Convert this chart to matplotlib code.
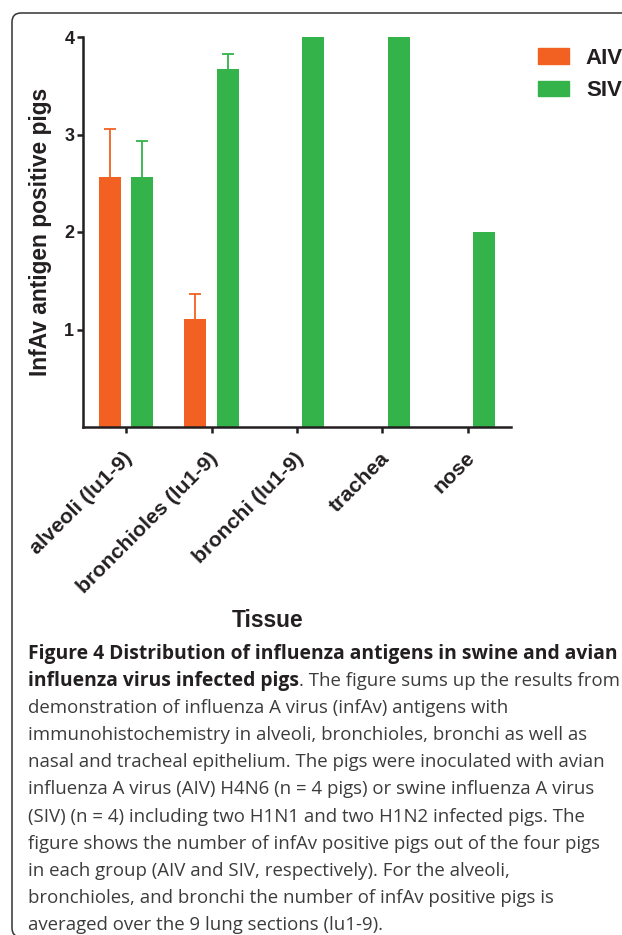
import matplotlib
matplotlib.use("Agg")
import matplotlib.pyplot as plt
from matplotlib.patches import FancyBboxPatch, Patch
from matplotlib.transforms import IdentityTransform, ScaledTranslation
import numpy as np

# --- data ---
tissues = ["alveoli (lu1-9)", "bronchioles (lu1-9)", "bronchi (lu1-9)", "trachea", "nose"]
aiv = [2.56, 1.11, 0, 0, 0]
aiv_err = [0.50, 0.25, 0, 0, 0]
siv = [2.56, 3.67, 4, 4, 2]
siv_err = [0.37, 0.16, 0, 0, 0]
y_ticks = [1, 2, 3, 4]

caption_bold_1 = "Figure 4 Distribution of influenza antigens in swine and avian"
caption_bold_2 = "influenza virus infected pigs"
caption_rest_2 = ". The figure sums up the results from"
caption_lines = [
    "demonstration of influenza A virus (infAv) antigens with",
    "immunohistochemistry in alveoli, bronchioles, bronchi as well as",
    "nasal and tracheal epithelium. The pigs were inoculated with avian",
    "influenza A virus (AIV) H4N6 (n = 4 pigs) or swine influenza A virus",
    "(SIV) (n = 4) including two H1N1 and two H1N2 infected pigs. The",
    "figure shows the number of infAv positive pigs out of the four pigs",
    "in each group (AIV and SIV, respectively). For the alveoli,",
    "bronchioles, and bronchi the number of infAv positive pigs is",
    "averaged over the 9 lung sections (lu1-9).",
]

ORANGE = "#f26122"
GREEN = "#33b34a"
DARK = "#231f20"
GREY = "#3c3c3c"

plt.rcParams["font.family"] = ["Liberation Sans", "DejaVu Sans"]
plt.rcParams["font.weight"] = "bold"

W, H = 622, 935
fig = plt.figure(figsize=(W / 100, H / 100), dpi=100)
fig.patch.set_facecolor("white")

# axes box in pixels: x 83..511, y 37..427 (from top)
ax = fig.add_axes([83.3 / W, 1 - 427 / H, (510.7 - 83.3) / W, (427 - 37) / H])

x = np.arange(len(tissues))
off, bw = 0.19, 0.26
ax.bar(x - off, aiv, width=bw, color=ORANGE, label="AIV", zorder=2)
ax.bar(x + off, siv, width=bw, color=GREEN, label="SIV", zorder=2)

# only the upper half of the error bars is shown
for vals, errs, sign, col in [(aiv, aiv_err, -1, ORANGE), (siv, siv_err, 1, GREEN)]:
    v = np.array(vals)
    e = np.array(errs)
    m = e > 0
    eb = ax.errorbar(x[m] + sign * off, v[m], yerr=[np.zeros(m.sum()), e[m]],
                     fmt="none", ecolor=col, elinewidth=1.3, capsize=4,
                     capthick=1.3, zorder=1)
    eb[1][0].set_visible(False)  # lower cap

ax.set_xlim(-0.5, 4.5)
ax.set_ylim(0, 4)
ax.set_yticks(y_ticks)
ax.set_xticks(x)
ax.set_xticklabels(tissues, rotation=45, ha="right", va="top",
                   rotation_mode="anchor", fontsize=15.3, color=DARK)
ax.tick_params(axis="y", labelsize=13, colors=DARK, length=4.5, width=1.8, pad=2)
ax.tick_params(axis="x", colors=DARK, length=4.5, width=1.8, pad=11)
shift = ScaledTranslation(-3 / 100, 0, fig.dpi_scale_trans)
for lbl in ax.get_xticklabels():
    lbl.set_transform(lbl.get_transform() + shift)
for s in ["top", "right"]:
    ax.spines[s].set_visible(False)
for s in ["left", "bottom"]:
    ax.spines[s].set_linewidth(1.8)
    ax.spines[s].set_color(DARK)

ax.set_ylabel("InfAv antigen positive pigs", fontsize=16.4, fontweight="bold",
              color=DARK, va="center")
ax.yaxis.set_label_coords(-0.099, 0.5)
ax.set_xlabel("Tissue", fontsize=16.4, fontweight="bold", color=DARK, va="baseline")
ax.xaxis.set_label_coords(0.43, -0.513)

handles = [Patch(color=ORANGE), Patch(color=GREEN)]
fig.legend(handles, ["AIV", "SIV"], loc="upper left",
           bbox_to_anchor=(527 / W, 1 - 37 / H), frameon=False,
           prop={"weight": "bold", "size": 16},
           handlelength=1.4, handleheight=0.72, handletextpad=0.75,
           labelspacing=0.5, borderpad=0, labelcolor=DARK)

# --- caption ---
cap_font = ["Open Sans", "DejaVu Sans"]
bold_size, reg_size = 13.9, 13.4
x0 = 28 / W
base0 = 659
step = 27.1
fig.text(x0, 1 - base0 / H, caption_bold_1, family=cap_font, weight="bold",
         fontsize=bold_size, color=DARK, va="baseline")
t2 = fig.text(x0, 1 - (base0 + step) / H, caption_bold_2, family=cap_font,
              weight="bold", fontsize=bold_size, color=DARK, va="baseline")
r = fig.canvas.get_renderer()
bb = t2.get_window_extent(renderer=r)
fig.text(bb.x1 / W, 1 - (base0 + step) / H, caption_rest_2, family=cap_font,
         weight="normal", fontsize=reg_size, color=GREY, va="baseline")
for i, line in enumerate(caption_lines):
    fig.text(x0, 1 - (base0 + step * (i + 2)) / H, line, family=cap_font,
             weight="normal", fontsize=reg_size, color=GREY, va="baseline")

# rounded frame around the whole figure panel
frame = FancyBboxPatch((12, -2), 640, H - 13 + 2, boxstyle="round,pad=0,rounding_size=9",
                       transform=IdentityTransform(), fill=False,
                       edgecolor="#333333", linewidth=1.1)
fig.add_artist(frame)

fig.savefig("out.png", dpi=100, facecolor="white")
